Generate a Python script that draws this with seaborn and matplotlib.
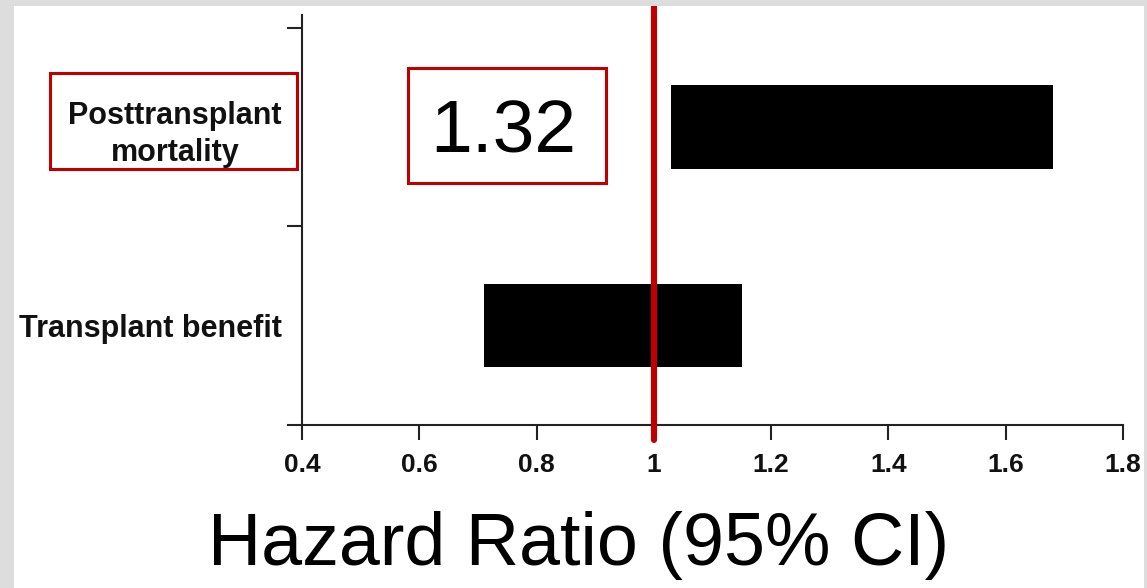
import matplotlib
matplotlib.use("Agg")
import matplotlib.pyplot as plt
from matplotlib.patches import Rectangle
import seaborn as sns
import pandas as pd

# data
outcomes = ["Transplant benefit", "Posttransplant\nmortality"]
row_pos = [0.5, 1.5]
ci_low = [0.71, 1.03]
ci_high = [1.15, 1.68]
hr_label = "1.32"
x_ticks = [0.4, 0.6, 0.8, 1.0, 1.2, 1.4, 1.6, 1.8]
x_tick_labels = ["0.4", "0.6", "0.8", "1", "1.2", "1.4", "1.6", "1.8"]
ref_line = 1.0

W, H = 1147, 588
RED = "#c00000"
GREY = "#dddddd"
AXC = "#222222"

sns.set_theme(style="white")
plt.rcParams["font.family"] = ["Liberation Sans", "DejaVu Sans"]

df = pd.DataFrame({"outcome": outcomes, "pos": row_pos, "low": ci_low, "high": ci_high})
df = df.sort_values("pos").reset_index(drop=True)
df["span"] = df["high"] - df["low"]

fig = plt.figure(figsize=(W / 100, H / 100), dpi=100, facecolor=GREY)


def box(x0, y0, x1, y1, **kw):
    # rectangle given in pixels from the top-left corner
    r = Rectangle((x0 / W, 1 - y1 / H), (x1 - x0) / W, (y1 - y0) / H,
                  transform=fig.transFigure, **kw)
    fig.add_artist(r)
    return r


# white panel behind everything
box(14, 6, 1144, 588, facecolor="white", edgecolor="none", zorder=-5)

ax = fig.add_axes([302 / W, (588 - 425) / H, (1123 - 302) / W, (425 - 15) / H])
ax.set_facecolor("none")

sns.barplot(data=df, x="span", y="pos", left=df["low"].values, orient="y",
            native_scale=True, width=0.42, color="black", saturation=1,
            errorbar=None, linewidth=0, ax=ax)

ax.axvline(ref_line, ymin=-15 / 410, ymax=1 + 9 / 410, color=RED, lw=4.4,
           clip_on=False, zorder=5)

ax.set_xlim(0.4, 1.8)
ax.set_ylim(0, 2.065)
ax.set_xticks(x_ticks, x_tick_labels)
ax.set_yticks(df["pos"], df["outcome"])
ax.set_yticks([0, 1, 2], minor=True)
ax.set_xlabel("")
ax.set_ylabel("")

ax.tick_params(axis="x", which="major", length=11, width=1.5, color=AXC,
               direction="out", bottom=True, pad=9, labelsize=19, labelcolor="#111111")
ax.tick_params(axis="y", which="major", length=0, pad=14.5, labelsize=22,
               labelcolor="#111111", left=True)
ax.tick_params(axis="y", which="minor", length=11, width=1.5, color=AXC,
               direction="out", left=True)
for lbl in ax.get_xticklabels():
    lbl.set_fontweight("bold")
for lbl in ax.get_yticklabels():
    lbl.set_fontweight("bold")
    lbl.set_multialignment("center")
    lbl.set_linespacing(1.32)

for side in ["top", "right"]:
    ax.spines[side].set_visible(False)
for side in ["left", "bottom"]:
    ax.spines[side].set_color(AXC)
    ax.spines[side].set_linewidth(1.5)

# highlight boxes
box(50, 73, 297, 169, facecolor="none", edgecolor=RED, lw=2.2, zorder=6)
box(408, 68, 606, 183, facecolor="none", edgecolor=RED, lw=2.2, zorder=6)
fig.text(503.5 / W, 1 - 152 / H, hr_label, ha="center", va="baseline",
         fontsize=54, color="black")

fig.text(579 / W, 1 - 565 / H, "Hazard Ratio (95% CI)", ha="center",
         va="baseline", fontsize=53, color="black")

# grey frame strips on top (clip the cut-off 1.8 label like the reference)
box(1144, 0, W, H, facecolor=GREY, edgecolor="none", zorder=10)
box(0, 0, W, 6, facecolor=GREY, edgecolor="none", zorder=10)

fig.savefig("out.png", dpi=100, facecolor=GREY)
